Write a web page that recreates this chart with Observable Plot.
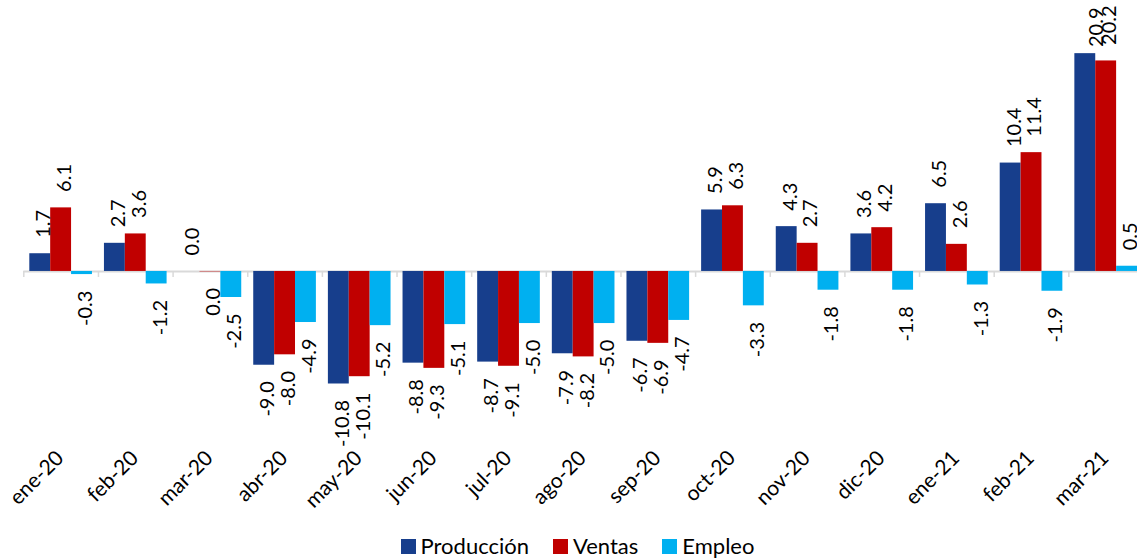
<!DOCTYPE html>
<html>
<head>
<meta charset="utf-8">
<script src="https://cdn.jsdelivr.net/npm/d3@7"></script>
<script src="https://cdn.jsdelivr.net/npm/@observablehq/plot@0.6"></script>
<style>
  html, body { margin: 0; padding: 0; background: #fff; }
  body { width: 1137px; height: 560px; overflow: hidden; font-family: Lato, "Open Sans", sans-serif; }
  #legend { display: flex; justify-content: center; align-items: center; height: 30px; font-size: 22px; color: #000; padding-left: 18px; }
  #legend .item { display: flex; align-items: center; margin: 0 12px; }
  #legend .sw { width: 15px; height: 15px; margin-right: 5px; margin-top: 3px; }
</style>
</head>
<body>
<div id="chart"></div>
<div id="legend"></div>
<script>
// ---- data ----
const months = ["ene-20","feb-20","mar-20","abr-20","may-20","jun-20","jul-20","ago-20","sep-20","oct-20","nov-20","dic-20","ene-21","feb-21","mar-21"];
const seriesNames = ["Producción","Ventas","Empleo"];
const produccion = [1.7, 2.7, 0.0, -9.0, -10.8, -8.8, -8.7, -7.9, -6.7, 5.9, 4.3, 3.6, 6.5, 10.4, 20.9];
const ventas     = [6.1, 3.6, -0.04, -8.0, -10.1, -9.3, -9.1, -8.2, -6.9, 6.3, 2.7, 4.2, 2.6, 11.4, 20.2];
const empleo     = [-0.3, -1.2, -2.5, -4.9, -5.2, -5.1, -5.0, -5.0, -4.7, -3.3, -1.8, -1.8, -1.3, -1.9, 0.5];
const colors = ["#173E8C", "#C00000", "#00B0F0"];

// ---- layout ----
const W = 1137, H = 530;
const mL = 23.3, mR = -6, mT = 0, mB = 134;
const yDomain = [-12, 26];
const bw = (W - mL - mR) / months.length;
const pad = 6;
const barW = (bw - 2 * pad) / 3;
const pxPerUnit = (H - mT - mB) / (yDomain[1] - yDomain[0]);
const labelGap = 16, labelLen = 42;
// labels that would not fit above their bar are pushed down inside the plot area (as Excel does)
const fitsAbove = v => (yDomain[1] - v) * pxPerUnit >= labelGap + labelLen;

const valuesBySeries = [produccion, ventas, empleo];
const table = valuesBySeries.map((vals, s) =>
  months.map((m, i) => ({month: m, series: seriesNames[s], value: vals[i]}))
);
const fmt = v => (Math.round(v * 10) / 10).toFixed(1);

const marks = [
  Plot.ruleY([0], {stroke: "#d9d9d9", strokeWidth: 2}),
  Plot.ruleX(months, {x: d => d, y1: 0, y2: 0, dx: -bw / 2, insetBottom: -6, stroke: "#d9d9d9", strokeWidth: 1.5}),
];
table.forEach((rows, s) => {
  const insetLeft = pad + s * barW;
  const insetRight = pad + (2 - s) * barW;
  marks.push(Plot.barY(rows, {x: "month", y: "value", fill: colors[s], insetLeft, insetRight}));
});
table.forEach((rows, s) => {
  const dx = (s - 1) * barW + 3.5;
  marks.push(Plot.text(rows.filter(d => d.value >= 0 && fitsAbove(d.value)), {
    x: "month", y: "value", text: d => fmt(d.value), rotate: -90, textAnchor: "start",
    dx, dy: -labelGap, fill: "#000", fontSize: 20
  }));
  marks.push(Plot.text(rows.filter(d => d.value >= 0 && !fitsAbove(d.value)), {
    x: "month", text: d => fmt(d.value), rotate: -90, textAnchor: "end", frameAnchor: "top",
    dx, dy: 7, fill: "#000", fontSize: 20
  }));
  marks.push(Plot.text(rows.filter(d => d.value < 0), {
    x: "month", y: "value", text: d => fmt(d.value), rotate: -90, textAnchor: "end",
    dx, dy: labelGap, fill: "#000", fontSize: 20
  }));
});
marks.push(Plot.axisX({anchor: "bottom", tickSize: 0, tickRotate: -45, tickPadding: 58, dx: -1, fontSize: 21, fill: "#000", label: null}));

const chart = Plot.plot({
  width: W, height: H,
  marginLeft: mL, marginRight: mR, marginTop: mT, marginBottom: mB,
  style: {fontFamily: "Lato, 'Open Sans', sans-serif", fontSize: "20px", color: "#000", background: "#fff", overflow: "hidden"},
  x: {domain: months, padding: 0, round: false, axis: null},
  y: {domain: yDomain, axis: null},
  marks
});
document.getElementById("chart").appendChild(chart);

const legend = document.getElementById("legend");
seriesNames.forEach((name, s) => {
  const item = document.createElement("div");
  item.className = "item";
  const sw = document.createElement("span");
  sw.className = "sw";
  sw.style.background = colors[s];
  const label = document.createElement("span");
  label.textContent = name;
  item.appendChild(sw);
  item.appendChild(label);
  legend.appendChild(item);
});
</script>
</body>
</html>
